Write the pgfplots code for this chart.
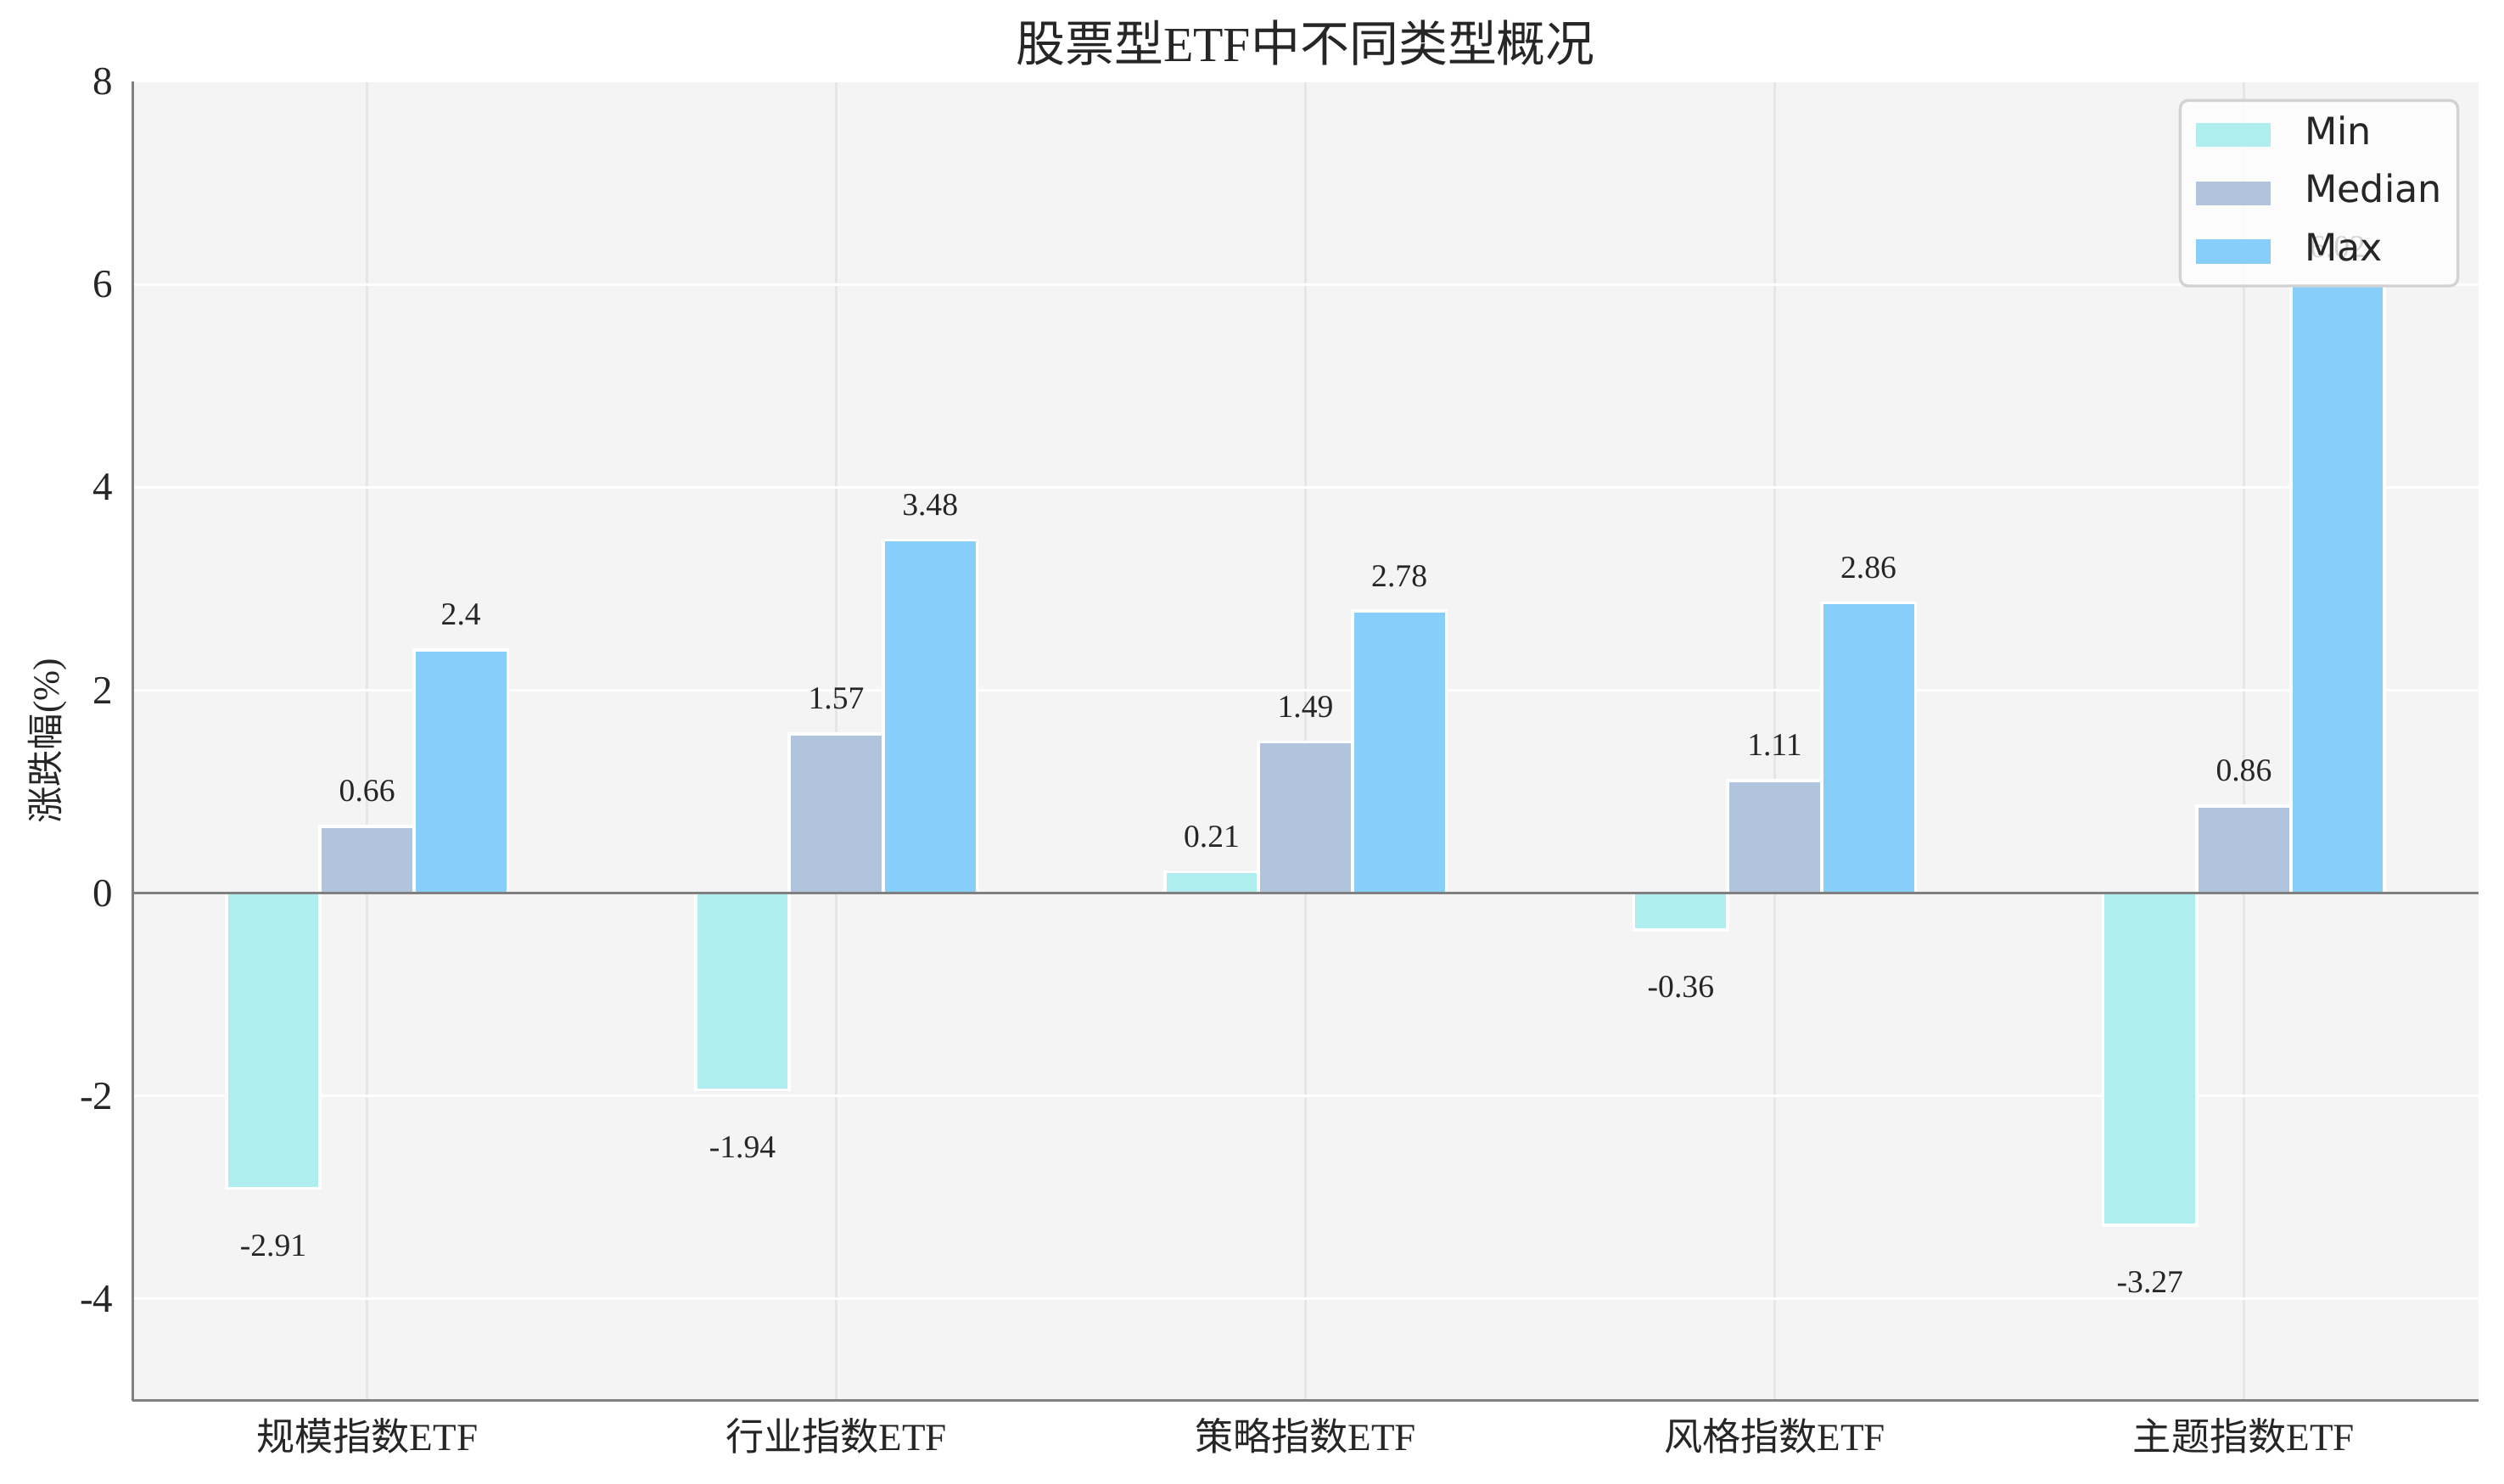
\documentclass[border=0pt]{standalone}
\usepackage{fontspec}
\setmainfont{Liberation Serif}
\newfontfamily\cjk{Noto Sans CJK SC}
\newfontfamily\dejavu{DejaVu Sans}
\usepackage{pgfplots}
\pgfplotsset{compat=1.18}
\definecolor{minc}{HTML}{AFEEEE}
\definecolor{medc}{HTML}{B0C4DE}
\definecolor{maxc}{HTML}{87CEFA}
\definecolor{bgc}{HTML}{F4F4F4}
\definecolor{vgrid}{HTML}{E6E6E6}
\definecolor{spine}{HTML}{808080}
\definecolor{txt}{HTML}{262626}
\begin{document}
\begin{tikzpicture}
\begin{axis}[
  width=734.5pt, height=413pt, scale only axis,
  xmin=-0.5, xmax=4.5, ymin=-5, ymax=8,
  ytick={-4,-2,0,2,4,6,8},
  xtick={0,1,2,3,4},
  xticklabels={{\cjk 规模指数}ETF,{\cjk 行业指数}ETF,{\cjk 策略指数}ETF,{\cjk 风格指数}ETF,{\cjk 主题指数}ETF},
  /pgf/number format/assume math mode=true,
  major tick length=0pt,
  axis x line*=bottom, axis y line*=left,
  axis line style={-, draw=spine, line width=0.8pt},
  axis background/.style={fill=bgc},
  xmajorgrids, ymajorgrids,
  x grid style={vgrid, line width=0.8pt},
  y grid style={white, line width=0.8pt},
  xticklabel style={font=\fontsize{12}{14}\selectfont, text=txt, yshift=-2pt},
  yticklabel style={font=\fontsize{12.5}{14}\selectfont, text=txt, xshift=-2.5pt},
  title={{\cjk 股票型}ETF{\cjk 中不同类型概况}},
  every axis title shift=0pt,
  title style={at={(0.5,1)}, anchor=base, yshift=6.2pt, font=\fontsize{15.4}{17}\selectfont, text=txt},
  ylabel={{\cjk 涨跌幅}(\%)},
  ylabel style={at={(axis description cs:-0.0361,0.5)}, anchor=center, font=\fontsize{11.5}{13}\selectfont, text=txt},
  ybar, bar width=0.2,
  nodes near coords={\raisebox{0pt}[13.4pt][0pt]{\pgfmathprintnumber{\pgfplotspointmeta}}},
  nodes near coords align={vertical},
  every node near coord/.append style={inner sep=0pt, inner ysep=7.2pt, font=\fontsize{10}{12}\selectfont, text=txt},
  legend cell align=left,
  legend image code/.code={\fill[#1,draw=none,sharp corners,fill opacity=1] (0pt,-3.75pt) rectangle (23.4pt,3.75pt);},
  legend style={at={(0.9918,0.9867)}, anchor=north east, draw=gray!35, line width=0.9pt,
    rounded corners=2.5pt, fill=white, fill opacity=0.8, text opacity=1,
    font=\dejavu\fontsize{11.8}{14}\selectfont, text=txt,
    inner xsep=5pt, inner ysep=4.8pt, row sep=6.25pt, column sep=10.6pt,
    nodes={inner sep=0pt, text height=9pt, text depth=3pt}},
]
\addplot[fill=minc, draw=white, line width=1pt, bar shift=-0.2] coordinates {(0,-2.91) (1,-1.94) (2,0.21) (3,-0.36) (4,-3.27)};
\addlegendentry{Min}
\addplot[fill=medc, draw=white, line width=1pt, bar shift=0] coordinates {(0,0.66) (1,1.57) (2,1.49) (3,1.11) (4,0.86)};
\addlegendentry{Median}
\addplot[fill=maxc, draw=white, line width=1pt, bar shift=0.2] coordinates {(0,2.4) (1,3.48) (2,2.78) (3,2.86) (4,6.02)};
\addlegendentry{Max}
\draw[spine, line width=0.8pt] (axis cs:-0.5,0) -- (axis cs:4.5,0);
\end{axis}
\pgfresetboundingbox
\path[use as bounding box] ([shift={(-41.5pt,-26pt)}]current axis.south west) rectangle ([shift={(8pt,25.5pt)}]current axis.north east);
\end{tikzpicture}
\end{document}
